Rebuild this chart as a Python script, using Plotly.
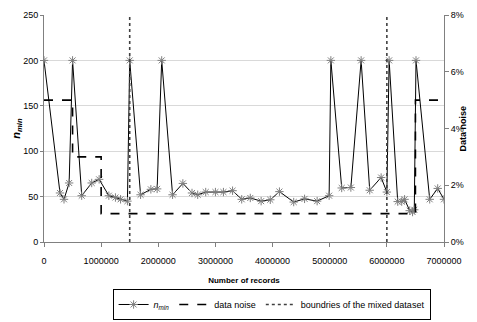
import plotly.graph_objects as go

# n_min series (number of records, n_min)
records = [0, 280000, 350000, 440000, 500000, 660000, 835000, 965000, 1135000, 1250000,
           1340000, 1460000, 1500000, 1690000, 1870000, 1980000, 2060000, 2250000, 2430000,
           2590000, 2690000, 2830000, 3000000, 3140000, 3300000, 3460000, 3610000, 3800000,
           3960000, 4120000, 4370000, 4560000, 4780000, 4990000, 5020000, 5210000, 5370000,
           5550000, 5700000, 5900000, 6000000, 6040000, 6190000, 6260000, 6310000, 6400000,
           6450000, 6480000, 6510000, 6750000, 6890000, 7000000]
n_min = [200, 54, 47, 65, 200, 51, 65, 69, 51, 49,
         47, 45, 200, 52, 58, 58.5, 200, 52, 64.5,
         54, 52, 55, 55, 55, 56.5, 47, 48.5, 45,
         46.5, 55.5, 44, 47.5, 45, 51, 200, 59.5, 60,
         200, 57, 71, 55, 200, 44.5, 44.5, 47, 34.5,
         33, 35.5, 200, 47, 59, 47]

# data noise (step function)
noise_x = [0, 500000, 1000000, 6500000, 7000000]
noise_y = [0.05, 0.03, 0.01, 0.05, 0.05]

# boundaries of the mixed dataset
boundaries = [1500000, 6000000]

x_ticks = [0, 1000000, 2000000, 3000000, 4000000, 5000000, 6000000, 7000000]

FONT = "Liberation Sans, Arial, sans-serif"

fig = go.Figure()

bx, by = [], []
for b in boundaries:
    bx += [b, b, None]
    by += [0, 250, None]

fig.add_trace(go.Scatter(
    x=records, y=n_min, mode="lines+markers",
    name="<i>n</i><sub><i>min</i></sub>",
    line=dict(color="black", width=1),
    marker=dict(symbol="asterisk-open", size=7, color="#7f7f7f",
                line=dict(color="#7f7f7f", width=1)),
))
fig.add_trace(go.Scatter(
    x=noise_x, y=noise_y, mode="lines", name="data noise", yaxis="y2",
    line=dict(color="black", width=1.6, dash="dash", shape="hv"),
))
fig.add_trace(go.Scatter(
    x=bx, y=by, mode="lines", name="boundries of the mixed dataset",
    line=dict(color="#404040", width=1.6, dash="dot"),
))

# the page body has an 8px margin; the figure is sized/offset to compensate
fig.update_layout(
    width=469, height=314,
    margin=dict(l=36, r=33, t=7, b=80, autoexpand=False),
    paper_bgcolor="white", plot_bgcolor="white",
    font=dict(family=FONT, size=9, color="black"),
    showlegend=True,
    legend=dict(orientation="h", x=0.569, xanchor="center", y=-0.207, yanchor="top",
                bordercolor="black", borderwidth=1, bgcolor="white",
                font=dict(size=9), itemwidth=30, tracegroupgap=0),
    xaxis=dict(range=[0, 7000000], tickvals=x_ticks, tickformat="d", automargin=False,
               showgrid=False, zeroline=False, showline=True, linecolor="#808080",
               ticks="outside", ticklen=4, tickcolor="#808080", ticklabelstandoff=6,
               title=dict(text="<b>Number of records</b>", font=dict(size=8), standoff=12)),
    yaxis=dict(range=[0, 250], dtick=50, showgrid=True, gridcolor="#d9d9d9", automargin=False,
               zeroline=False, showline=True, linecolor="#808080",
               ticks="outside", ticklen=3, tickcolor="#808080",
               title=dict(text="<b><i>n<sub>min</sub></i></b>", font=dict(size=11), standoff=0)),
    yaxis2=dict(range=[0, 0.08], dtick=0.02, tickformat=".0%", overlaying="y", side="right",
                showgrid=False, zeroline=False, showline=True, linecolor="#808080",
                ticks="outside", ticklen=4, tickcolor="#808080", automargin=False),
    annotations=[dict(text="<b>Data noise</b>", xref="paper", yref="paper",
                      x=1.045, y=0.5, xanchor="center", yanchor="middle",
                      textangle=-90, showarrow=False, font=dict(size=9))],
)

fig.write_html("out.html")
